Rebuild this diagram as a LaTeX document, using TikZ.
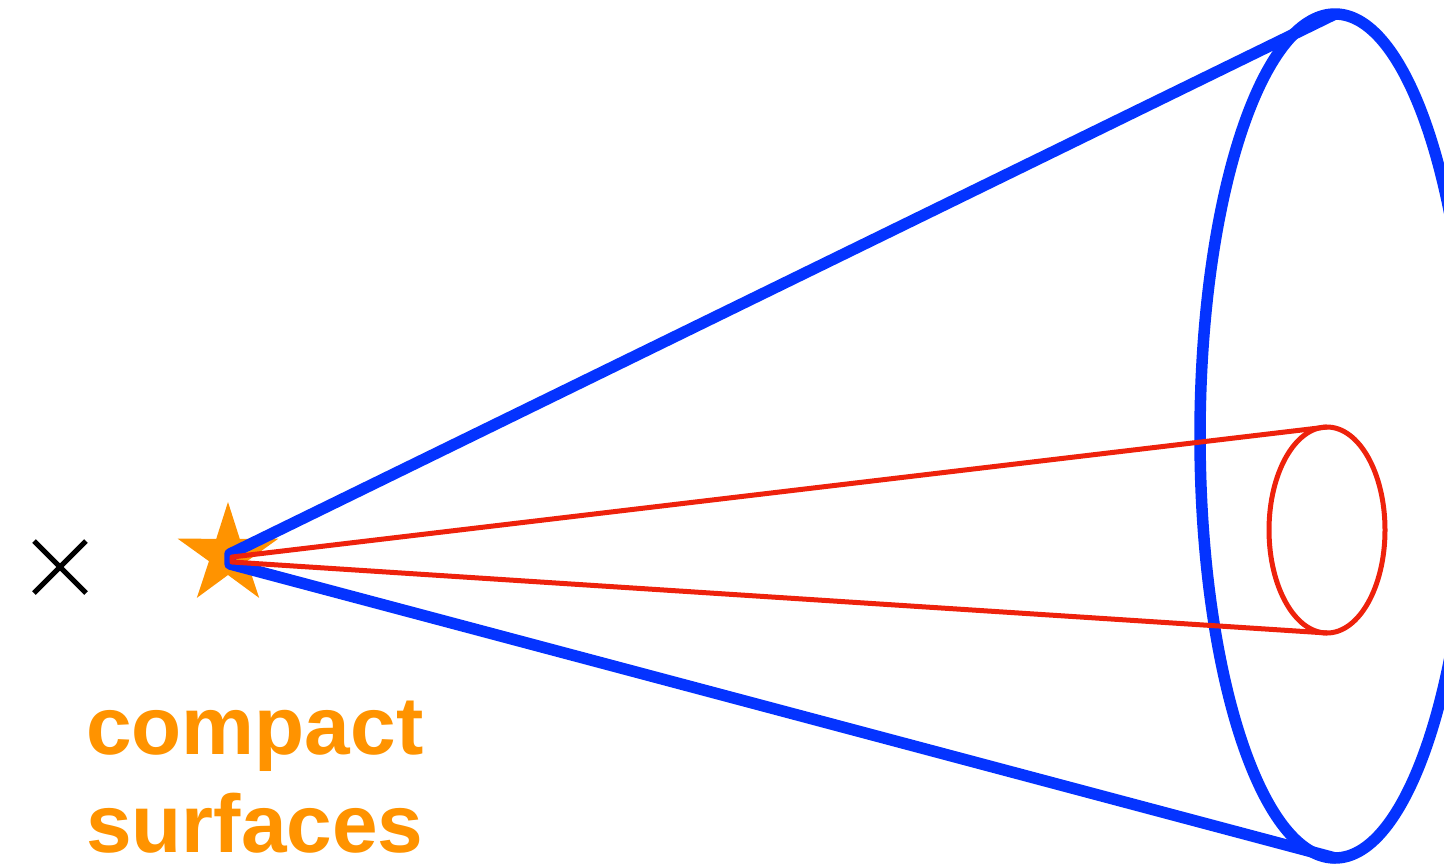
\documentclass[tikz,border=0pt]{standalone}
\usepackage{fontspec}
\setmainfont{Liberation Sans}
\definecolor{cblue}{HTML}{0433FF}
\definecolor{cred}{HTML}{EE220C}
\definecolor{corange}{HTML}{FF9300}
\begin{document}
\begin{tikzpicture}[x=1bp,y=-1bp,
  cone/.style={draw=cblue,line width=11.5bp,line join=round},
  beam/.style={draw=cred,line width=5bp,line join=round},
  crossmark/.style={draw=black,line width=5bp},
  label/.style={text=corange,font=\bfseries\fontsize{82bp}{98bp}\selectfont,align=left,inner sep=0pt}]
\useasboundingbox (0,0) rectangle (1444,867);
\clip (0,0) rectangle (1444,867);
% coordinates
\coordinate (star) at (228,555);
\coordinate (cross) at (60,567);
\coordinate (bigc) at (1335,436);
\coordinate (bigtop) at (1335,14);
\coordinate (bigbot) at (1335,858);
\coordinate (smallc) at (1327,530);
\coordinate (smalltop) at (1327,427);
\coordinate (smallbot) at (1327,633);
\coordinate (apexA) at (230,554);
\coordinate (apexB) at (230,564);
\coordinate (apexR1) at (232,557);
\coordinate (apexR2) at (232,562);
% cross
\draw[crossmark] ([shift={(-26,-26)}]cross) -- ([shift={(26,26)}]cross)
                 ([shift={(-26,26)}]cross) -- ([shift={(26,-26)}]cross);
% star
\fill[corange] (star) ++(90:-53)
  \foreach \i in {1,...,9}{ -- ([shift={({-90+36*\i}:{ifthenelse(mod(\i,2)==1,20,53)})}]star) } -- cycle;
% blue cone
\draw[cone] (bigc) ellipse [x radius=135, y radius=422];
\draw[cone] (bigtop) -- (apexA) -- (apexB) -- (bigbot);
% red cone
\draw[beam] (smallc) ellipse [x radius=58, y radius=103];
\draw[beam] (smalltop) -- (apexR1) -- (apexR2) -- (smallbot);
% label
\node[label,anchor=base west] (lbl) at (86,852) {compact\\surfaces};
\end{tikzpicture}
\end{document}
